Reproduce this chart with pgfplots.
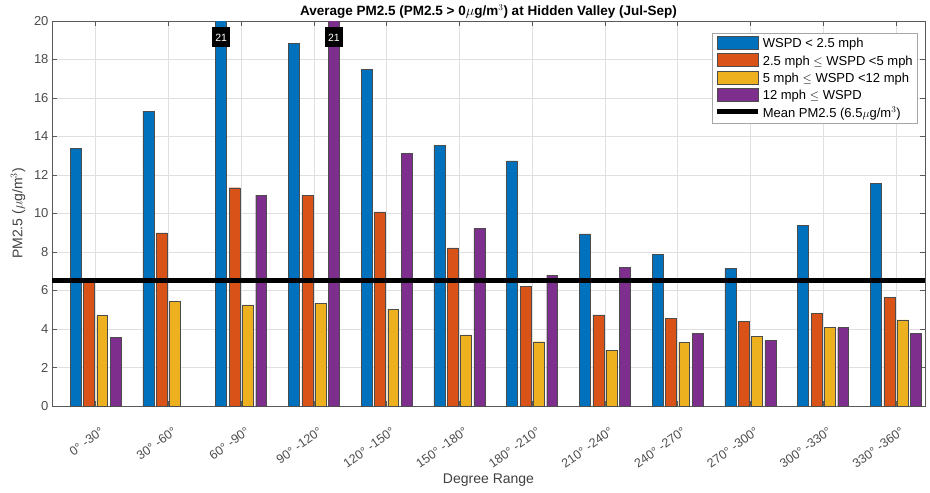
\documentclass[border=0pt]{standalone}
\usepackage{fontspec}
\setmainfont{Liberation Sans}
\usepackage{pgfplots}
\usepackage{pgfplotstable}
\pgfplotsset{compat=1.18}
\definecolor{c1}{rgb}{0,0.447,0.741}
\definecolor{c2}{rgb}{0.85,0.325,0.098}
\definecolor{c3}{rgb}{0.929,0.694,0.125}
\definecolor{c4}{rgb}{0.494,0.184,0.556}
\pgfplotstableread{
x blue orange yellow purple
1 13.37 6.47 4.70 3.55
2 15.30 8.99 5.43 nan
3 21 11.34 5.25 10.96
4 18.85 10.96 5.32 21
5 17.48 10.09 5.03 13.13
6 13.53 8.21 3.69 9.22
7 12.73 6.21 3.34 6.80
8 8.94 4.73 2.90 7.20
9 7.88 4.56 3.30 3.79
10 7.15 4.40 3.63 3.41
11 9.37 4.80 4.07 4.07
12 11.55 5.63 4.47 3.76
}\data
\pgfplotsset{
  barleg/.style={legend image code/.code={\draw[##1,draw=black!70] (0pt,-5.5pt) rectangle (41pt,7.5pt);}},
  lineleg/.style={legend image code/.code={\draw[##1] (0pt,1pt) -- (41pt,1pt);}},
}
\begin{document}
\begin{tikzpicture}
\path[use as bounding box] (-52pt,-87pt) rectangle (878pt,406pt);
\begin{axis}[
  at={(0pt,0pt)}, anchor=south west,
  scale only axis, width=873pt, height=385pt,
  xmin=0.4, xmax=12.4, ymin=0, ymax=20,
  ytick={0,2,...,20},
  xtick={1,...,12},
  xticklabels={
    0° -30°, 30° -60°, 60° -90°, 90° -120°, 120° -150°, 150° -180°,
    180° -210°, 210° -240°, 240° -270°, 270° -300°, 300° -330°, 330° -360°},
  x tick label style={xshift=5pt, yshift=-16pt, rotate=35, anchor=north east, font=\fontsize{12.5}{12.5}\selectfont, text=black!70},
  y tick label style={font=\fontsize{13}{13}\selectfont, text=black!70},
  /pgf/number format/assume math mode=true,
  grid=major,
  major grid style={gray!25, line width=0.5pt},
  axis line style={gray!70!black, line width=0.6pt},
  tick style={gray!70!black, line width=0.5pt},
  tick align=inside,
  major tick length=5pt,
  title={\bfseries Average PM2.5 (PM2.5 > 0$\mu$g/m$^3$) at Hidden Valley (Jul-Sep)},
  title style={font=\fontsize{13.5}{15}\selectfont, at={(axis description cs:0.5,1)}, anchor=south, inner sep=0pt, yshift=-4pt},
  xlabel={Degree Range},
  xlabel style={font=\fontsize{14}{16}\selectfont, text=black!75, at={(axis description cs:0.5,-0.192)}, anchor=center},
  ylabel={PM2.5 ($\mu$g/m$^3$)},
  ylabel style={font=\fontsize{14}{16}\selectfont, text=black!75, at={(axis description cs:-0.039,0.5)}, anchor=center},
  legend style={at={(0.992,0.969)}, anchor=north east, font=\fontsize{13}{15}\selectfont,
    draw=gray!70, line width=0.6pt, cells={anchor=west}, row sep=2pt, inner sep=3pt},
  legend cell align=left,
]
\addplot[ybar, bar width=0.15, bar shift=-0.275, fill=c1, draw=black!70, line width=0.4pt, barleg] table[x=x,y=blue]{\data};
\addplot[ybar, bar width=0.15, bar shift=-0.09, fill=c2, draw=black!70, line width=0.4pt, barleg] table[x=x,y=orange]{\data};
\addplot[ybar, bar width=0.15, bar shift=0.09, fill=c3, draw=black!70, line width=0.4pt, barleg] table[x=x,y=yellow]{\data};
\addplot[ybar, bar width=0.15, bar shift=0.275, fill=c4, draw=black!70, line width=0.4pt, barleg] table[x=x,y=purple]{\data};
\addplot[black, line width=5pt, lineleg] coordinates {(0.4,6.5) (12.4,6.5)};
\legend{WSPD < 2.5 mph, 2.5 mph $\leq$ WSPD <5 mph, 5 mph $\leq$ WSPD <12 mph, 12 mph $\leq$ WSPD, Mean PM2.5 (6.5$\mu$g/m$^3$)}
\node[fill=black, text=white, font=\fontsize{10.5}{10.5}\selectfont, minimum width=18pt, minimum height=20pt, inner sep=0pt] at (axis cs:2.725,19.15) {21};
\node[fill=black, text=white, font=\fontsize{10.5}{10.5}\selectfont, minimum width=18pt, minimum height=20pt, inner sep=0pt] at (axis cs:4.275,19.15) {21};
\end{axis}
\end{tikzpicture}
\end{document}
